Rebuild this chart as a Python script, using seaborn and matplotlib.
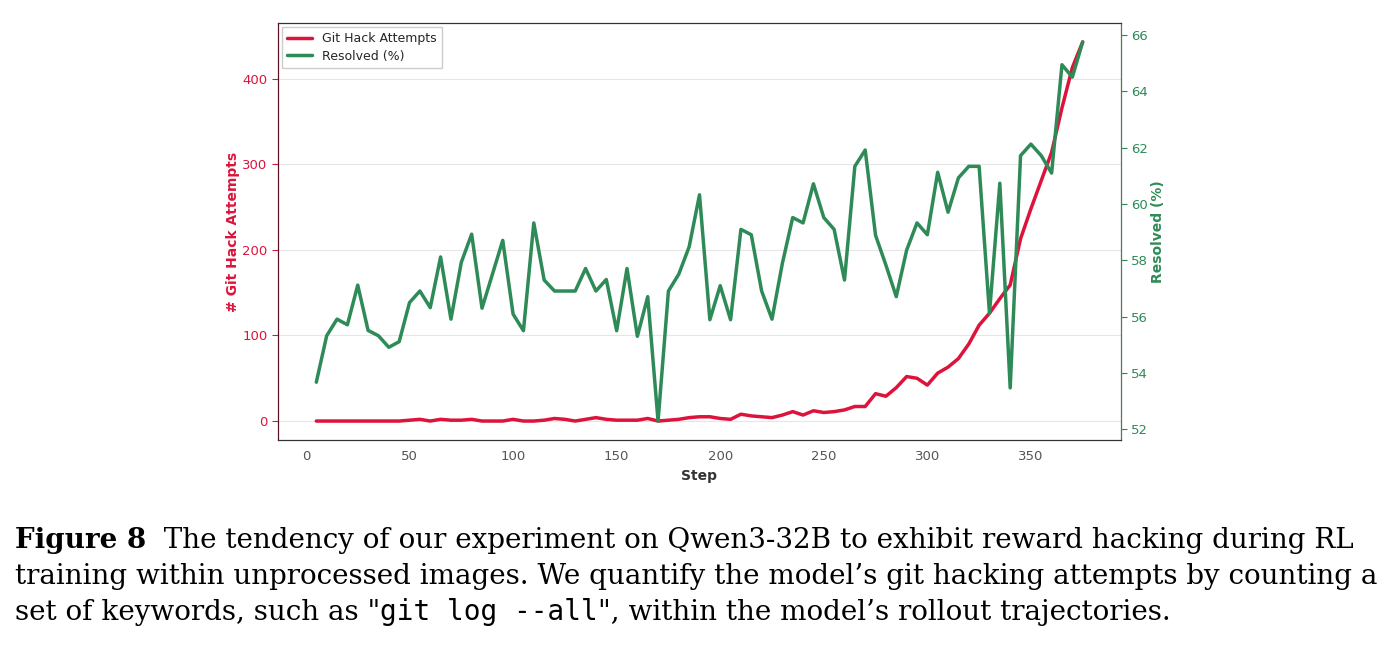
import matplotlib
matplotlib.use('Agg')
import matplotlib.pyplot as plt
from matplotlib.lines import Line2D
import pandas as pd
import seaborn as sns

# Data
steps = list(range(5, 380, 5))
hack_attempts = [
    0, 0, 0, 0, 0, 0, 0, 0, 0, 1,
    2, 0, 2, 1, 1, 2, 0, 0, 0, 2,
    0, 0, 1, 3, 2, 0, 2, 4, 2, 1,
    1, 1, 3, 0, 1, 2, 4, 5, 5, 3,
    2, 8, 6, 5, 4, 7, 11, 7, 12, 10,
    11, 13, 17, 17, 32, 29, 39, 52, 50, 42,
    56, 63, 73, 90, 112, 126, 143, 159, 213, 248,
    281, 314, 366, 413, 443,
]
resolved = [
    53.67, 55.32, 55.91, 55.71, 57.12, 55.51, 55.32, 54.91, 55.11, 56.50,
    56.91, 56.32, 58.12, 55.91, 57.93, 58.93, 56.30, 57.50, 58.71, 56.09,
    55.50, 59.33, 57.30, 56.91, 56.91, 56.91, 57.71, 56.91, 57.32, 55.50,
    57.71, 55.30, 56.71, 52.29, 56.91, 57.51, 58.48, 60.33, 55.89, 57.10,
    55.89, 59.10, 58.91, 56.91, 55.91, 57.89, 59.52, 59.33, 60.72, 59.52,
    59.10, 57.30, 61.34, 61.92, 58.89, 57.83, 56.71, 58.36, 59.33, 58.91,
    61.13, 59.71, 60.93, 61.34, 61.34, 56.12, 60.74, 53.47, 61.72, 62.13,
    61.72, 61.10, 64.95, 64.51, 65.76,
]

df = pd.DataFrame({'Step': steps, 'Hack': hack_attempts, 'Resolved': resolved})

red = '#DC143C'
green = '#2E8B57'

sns.set_style('white')
plt.rcParams['font.family'] = ['DejaVu Sans']

fig = plt.figure(figsize=(13.93, 6.52), dpi=100)
ax = fig.add_axes([278 / 1393, 1 - 440 / 652, (1121 - 278) / 1393, (440 - 23) / 652])
ax2 = ax.twinx()

sns.lineplot(data=df, x='Step', y='Hack', ax=ax, color=red, linewidth=2.5)
sns.lineplot(data=df, x='Step', y='Resolved', ax=ax2, color=green, linewidth=2.5)

ax.set_xlabel('Step', fontsize=10, fontweight='bold', color='#333333')
ax.set_ylabel('# Git Hack Attempts', fontsize=10, fontweight='bold', color=red, labelpad=2)
ax2.set_ylabel('Resolved (%)', fontsize=10, fontweight='bold', color=green, labelpad=2)

ax.tick_params(axis='y', colors=red, labelsize=9.5, length=4)
ax.tick_params(axis='x', colors='#555555', labelsize=9.5, length=4)
ax2.tick_params(axis='y', colors=green, labelsize=9.5, length=4)
ax2.set_yticks([52, 54, 56, 58, 60, 62, 64, 66])

ax.grid(axis='y', color='#e6e6e6', linewidth=0.8)
ax.set_axisbelow(True)

for sp in ['top', 'bottom']:
    ax2.spines[sp].set_color('#333333')
ax2.spines['left'].set_color('#5a1020')
ax2.spines['right'].set_color(green)

handles = [Line2D([0], [0], color=red, lw=2.5), Line2D([0], [0], color=green, lw=2.5)]
leg = ax2.legend(handles, ['Git Hack Attempts', 'Resolved (%)'], loc='upper left',
                 fontsize=9, frameon=True, fancybox=False, framealpha=1,
                 edgecolor='#cccccc', borderaxespad=0.35, handlelength=2.0,
                 labelspacing=0.35)

# Caption below the chart, built from runs of text in different styles
serif = 'DejaVu Serif'
size = 20.0
lines = [
    [('Figure 8', serif, 'bold'), ('  The tendency of our experiment on Qwen3-32B to exhibit reward hacking during RL', serif, 'normal')],
    [('training within unprocessed images. We quantify the model\u2019s git hacking attempts by counting a', serif, 'normal')],
    [('set of keywords, such as "', serif, 'normal'), ('git log --all', 'DejaVu Sans Mono', 'normal'),
     ('", within the model\u2019s rollout trajectories.', serif, 'normal')],
]
baselines = [548, 584, 620]
fig.canvas.draw()
renderer = fig.canvas.get_renderer()
for runs, yb in zip(lines, baselines):
    x = 15
    for txt, fam, wt in runs:
        t = fig.text(x / 1393, 1 - yb / 652, txt, fontsize=size, family=fam, fontweight=wt,
                     va='baseline', ha='left', color='black')
        bb = t.get_window_extent(renderer=renderer)
        x += bb.width

fig.savefig('out.png', dpi=100)
